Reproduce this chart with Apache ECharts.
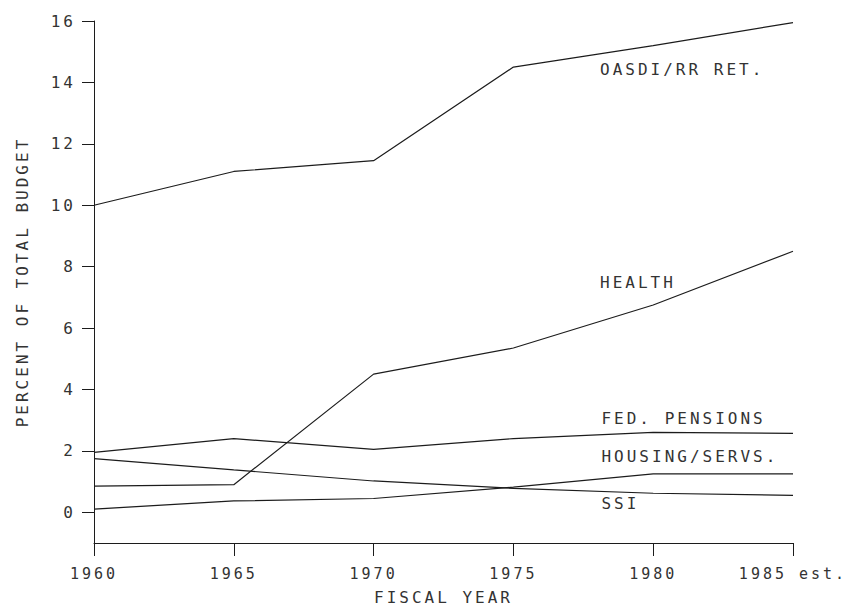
<!DOCTYPE html>
<html><head><meta charset="utf-8">
<script src="https://cdn.jsdelivr.net/npm/echarts@6/dist/echarts.min.js"></script>
<style>
html,body{margin:0;padding:0;background:#fff;}
#chart{width:846px;height:605px;}
#chart svg text{letter-spacing:3px;}
</style></head><body><div id="chart"></div>
<script>
const years = [1960, 1965, 1970, 1975, 1980, 1985];
const yearLabels = ['1960', '1965', '1970', '1975', '1980', '1985 est.'];
const yTicks = [0, 2, 4, 6, 8, 10, 12, 14, 16];
const oasdi = [10.0, 11.1, 11.45, 14.5, 15.2, 15.95];
const health = [0.85, 0.9, 4.5, 5.35, 6.75, 8.5];
const fedPensions = [1.95, 2.4, 2.05, 2.4, 2.6, 2.57];
const housing = [0.1, 0.37, 0.45, 0.82, 1.25, 1.25];
const ssi = [1.75, 1.38, 1.02, 0.78, 0.62, 0.55];
const seriesNames = ['OASDI/RR RET.', 'HEALTH', 'FED. PENSIONS', 'HOUSING/SERVS.', 'SSI'];
const seriesValues = [oasdi, health, fedPensions, housing, ssi];

const FONT = 'DejaVu Sans Mono';
const TXT = '#333';
const INK = '#1c1c1c';
// label anchors in data units (year, percent)
const labelAnchors = [[1978.1, 14.41], [1978.1, 7.5], [1978.15, 3.07], [1978.15, 1.83], [1978.15, 0.28]];

const chart = echarts.init(document.getElementById('chart'), null, {renderer: 'svg'});
chart.setOption({
  animation: false,
  backgroundColor: '#fff',
  grid: {left: 94, right: 53, top: 21, bottom: 62, containLabel: false, outerBoundsMode: 'none'},
  xAxis: {
    type: 'value', min: 1960, max: 1985, interval: 5,
    name: 'FISCAL YEAR', nameLocation: 'middle', nameGap: 46,
    nameTextStyle: {fontFamily: FONT, fontSize: 16, color: TXT},
    axisLine: {show: true, onZero: false, lineStyle: {color: INK, width: 1}},
    axisTick: {show: true, length: 13, lineStyle: {color: INK}},
    axisLabel: {fontFamily: FONT, fontSize: 15, color: TXT, margin: 23,
      formatter: v => { const i = years.indexOf(v); return i >= 0 ? yearLabels[i] : ''; }},
    splitLine: {show: false}
  },
  yAxis: {
    type: 'value', min: -1, max: 16,
    name: 'PERCENT OF TOTAL BUDGET', nameLocation: 'middle', nameGap: 64,
    nameTextStyle: {fontFamily: FONT, fontSize: 16, color: TXT},
    axisLine: {show: true, lineStyle: {color: INK, width: 1}},
    axisTick: {show: true, length: 12, customValues: yTicks, lineStyle: {color: INK}},
    axisLabel: {fontFamily: FONT, fontSize: 16, color: TXT, margin: 18, customValues: yTicks},
    splitLine: {show: false}
  },
  series: seriesValues.map((vals, k) => ({
    type: 'line',
    name: seriesNames[k],
    data: years.map((y, i) => [y, vals[i]]),
    symbol: 'none',
    lineStyle: {color: INK, width: 1.2},
    markPoint: {
      silent: true, symbol: 'circle', symbolSize: 0,
      label: {show: true, position: 'right', distance: 0, formatter: seriesNames[k],
        fontFamily: FONT, fontSize: 16, color: TXT},
      data: [{coord: labelAnchors[k]}]
    }
  }))
});
</script></body></html>
